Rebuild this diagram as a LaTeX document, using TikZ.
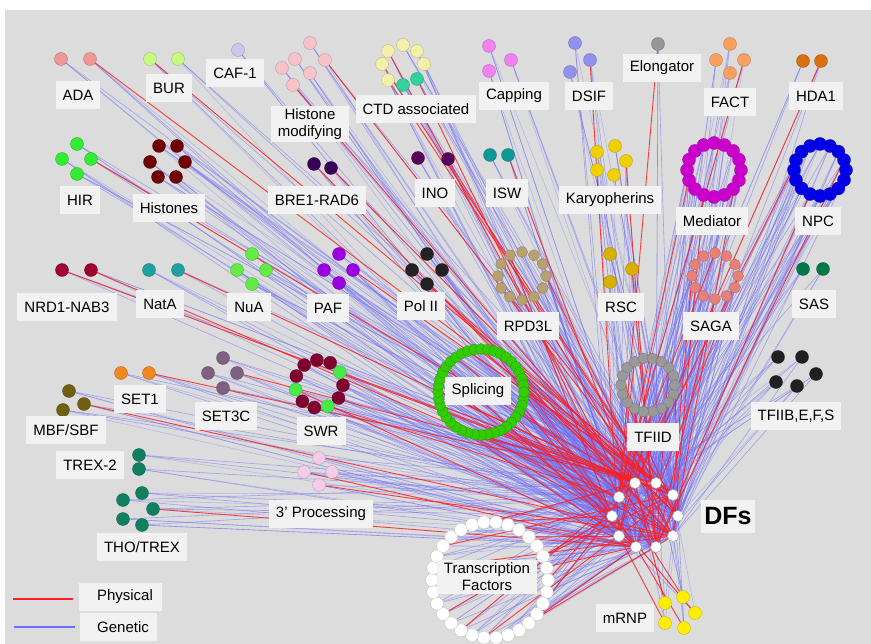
\documentclass[tikz,border=0pt]{standalone}
\usepackage{fontspec}
\setmainfont{Liberation Sans}
\pgfdeclarelayer{back}
\pgfdeclarelayer{links}
\pgfdeclarelayer{plinks}
\pgfsetlayers{back,links,plinks,main}

\definecolor{bggray}{RGB}{220,220,220}
\definecolor{boxgray}{RGB}{242,242,242}
\definecolor{physred}{RGB}{255,30,30}
\definecolor{genblue}{RGB}{110,110,250}
\definecolor{cada}{RGB}{240,150,150}
\definecolor{cbur}{RGB}{200,250,130}
\definecolor{ccaf}{RGB}{200,200,240}
\definecolor{chmod}{RGB}{248,195,200}
\definecolor{cctd}{RGB}{244,240,170}
\definecolor{cctdt}{RGB}{50,210,160}
\definecolor{ccap}{RGB}{240,130,240}
\definecolor{cdsif}{RGB}{145,145,240}
\definecolor{celo}{RGB}{150,150,150}
\definecolor{cfact}{RGB}{248,160,96}
\definecolor{chda}{RGB}{216,112,16}
\definecolor{chir}{RGB}{50,235,50}
\definecolor{chis}{RGB}{112,0,0}
\definecolor{cbre}{RGB}{58,0,88}
\definecolor{cino}{RGB}{88,0,88}
\definecolor{cisw}{RGB}{16,152,152}
\definecolor{ckap}{RGB}{240,208,0}
\definecolor{cmed}{RGB}{204,0,204}
\definecolor{cnpc}{RGB}{0,0,232}
\definecolor{cnrd}{RGB}{160,0,48}
\definecolor{cnat}{RGB}{32,160,160}
\definecolor{cnua}{RGB}{100,235,70}
\definecolor{cpaf}{RGB}{154,0,224}
\definecolor{cpol}{RGB}{34,34,34}
\definecolor{crpd}{RGB}{184,160,112}
\definecolor{crsc}{RGB}{216,176,0}
\definecolor{csaga}{RGB}{232,128,120}
\definecolor{csas}{RGB}{0,120,72}
\definecolor{cspl}{RGB}{51,204,0}
\definecolor{ctfiid}{RGB}{153,153,153}
\definecolor{ctfiib}{RGB}{32,32,32}
\definecolor{cset}{RGB}{240,136,32}
\definecolor{csetc}{RGB}{128,96,128}
\definecolor{cswr}{RGB}{128,0,48}
\definecolor{cswrg}{RGB}{70,235,70}
\definecolor{cmbf}{RGB}{112,96,16}
\definecolor{ctrex}{RGB}{16,128,96}
\definecolor{ctpp}{RGB}{244,204,232}
\definecolor{cmrnp}{RGB}{255,238,0}

\tikzset{
  prot/.style={circle, minimum size=13pt, inner sep=0pt, fill=#1, draw=#1!75!black, line width=0.3pt},
  tiny/.style={minimum size=11pt},
  hub/.style={circle, minimum size=11pt, inner sep=0pt, fill=white, draw=gray!70, line width=0.5pt},
  lbl/.style={fill=boxgray, inner xsep=7pt, inner ysep=3pt, minimum height=28pt, align=center, font=\fontsize{15}{17}\selectfont},
  gen/.style={draw=genblue, line width=0.6pt, opacity=0.55},
  phys/.style={draw=physred, line width=0.9pt, opacity=0.85},
}

% complex / number of proteins / every m-th protein has a physical link
\def\complexes{ada/2/2, bur/2/2, caf/1/99, hmod/6/3, ctd/8/2, cap/3/99, dsif/3/2, elo/1/1,
    fact/4/3, hda/2/2, hir/4/3, his/6/99, bre/2/1, ino/2/2, isw/2/2, kap/5/3, med/16/5, npc/16/5,
    nrd/2/1, nat/2/2, nua/4/99, paf/4/3, pol/4/2, rpd/12/4, rsc/3/2, saga/12/3, sas/2/99, spl/40/2,
    tfiid/18/2, tfiib/5/99, setone/2/2, setc/4/3, swr/11/3, mbf/3/2, trex/2/99, tpp/4/2, tho/5/3,
    tf/30/2, mrnp/5/1}

\begin{document}
\begin{tikzpicture}[x=1pt,y=-1pt]
\useasboundingbox (0,0) rectangle (871,644);
\begin{pgfonlayer}{back}
\fill[bggray] (5,10) rectangle (871,644);
\end{pgfonlayer}

% hub of DFs
\foreach \i/\x/\y in {1/635/483, 2/656/483, 3/673/495, 4/678/516, 5/673/536, 6/656/547, 7/636/547, 8/619/536, 9/612/516, 10/619/497}
  \node[hub] (df-\i) at (\x,\y) {};

% small complexes
\foreach \i/\x in {1/61, 2/90} \node[prot=cada] (ada-\i) at (\x,59) {};
\foreach \i/\x in {1/178, 2/150} \node[prot=cbur] (bur-\i) at (\x,59) {};
\node[prot=ccaf] (caf-1) at (238,50) {};
\foreach \i/\x/\y in {1/310/43, 2/295/59, 3/325/60, 4/282/68, 5/310/73, 6/293/85}
  \node[prot=chmod] (hmod-\i) at (\x,\y) {};
\foreach \i/\x/\y in {1/403/45, 2/388/51, 3/417/51, 4/382/64, 5/424/64, 6/388/80}
  \node[prot=cctd] (ctd-\i) at (\x,\y) {};
\foreach \i/\x/\y in {7/403/85, 8/417/79} \node[prot=cctdt] (ctd-\i) at (\x,\y) {};
\foreach \i/\x/\y in {1/489/46, 2/511/60, 3/489/71} \node[prot=ccap] (cap-\i) at (\x,\y) {};
\foreach \i/\x/\y in {1/575/43, 2/590/60, 3/570/72} \node[prot=cdsif] (dsif-\i) at (\x,\y) {};
\node[prot=celo] (elo-1) at (658,44) {};
\foreach \i/\x/\y in {1/730/44, 2/716/60, 3/744/60, 4/730/73} \node[prot=cfact] (fact-\i) at (\x,\y) {};
\foreach \i/\x in {1/803, 2/821} \node[prot=chda] (hda-\i) at (\x,61) {};
\foreach \i/\x/\y in {1/77/144, 2/62/159, 3/91/159, 4/77/174} \node[prot=chir] (hir-\i) at (\x,\y) {};
\foreach \i/\x/\y in {1/159/146, 2/177/146, 3/150/162, 4/185/162, 5/158/177, 6/176/177}
  \node[prot=chis] (his-\i) at (\x,\y) {};
\foreach \i/\x/\y in {1/314/164, 2/331/168} \node[prot=cbre] (bre-\i) at (\x,\y) {};
\foreach \i/\x/\y in {1/418/158, 2/448/159} \node[prot=cino] (ino-\i) at (\x,\y) {};
\foreach \i/\x in {1/490, 2/508} \node[prot=cisw] (isw-\i) at (\x,155) {};
\foreach \i/\x/\y in {1/597/152, 2/615/146, 3/626/161, 4/597/170, 5/614/175} \node[prot=ckap] (kap-\i) at (\x,\y) {};
\foreach \i/\x in {1/62, 2/91} \node[prot=cnrd] (nrd-\i) at (\x,270) {};
\foreach \i/\x in {1/149, 2/178} \node[prot=cnat] (nat-\i) at (\x,270) {};
\foreach \i/\x/\y in {1/252/254, 2/237/270, 3/266/270, 4/252/284} \node[prot=cnua] (nua-\i) at (\x,\y) {};
\foreach \i/\x/\y in {1/339/254, 2/324/270, 3/353/270, 4/339/283} \node[prot=cpaf] (paf-\i) at (\x,\y) {};
\foreach \i/\x/\y in {1/427/254, 2/412/270, 3/442/270, 4/427/284} \node[prot=cpol] (pol-\i) at (\x,\y) {};
\foreach \i/\x/\y in {1/610/254, 2/632/269, 3/610/282} \node[prot=crsc] (rsc-\i) at (\x,\y) {};
\foreach \i/\x in {1/803, 2/823} \node[prot=csas] (sas-\i) at (\x,269) {};
\foreach \i/\x/\y in {1/778/357, 2/802/357, 3/816/374, 4/776/382, 5/797/386} \node[prot=ctfiib] (tfiib-\i) at (\x,\y) {};
\foreach \i/\x in {1/121, 2/149} \node[prot=cset] (setone-\i) at (\x,373) {};
\foreach \i/\x/\y in {1/223/358, 2/208/373, 3/237/373, 4/223/388} \node[prot=csetc] (setc-\i) at (\x,\y) {};
\foreach \i/\x/\y in {1/69/391, 2/84/404, 3/63/410} \node[prot=cmbf] (mbf-\i) at (\x,\y) {};
\foreach \i/\y in {1/455, 2/469} \node[prot=ctrex] (trex-\i) at (139,\y) {};
\foreach \i/\x/\y in {1/319/458, 2/304/472, 3/332/472, 4/319/485} \node[prot=ctpp] (tpp-\i) at (\x,\y) {};
\foreach \i/\x/\y in {1/142/493, 2/123/500, 3/153/509, 4/123/519, 5/142/525} \node[prot=ctrex] (tho-\i) at (\x,\y) {};
\foreach \i/\x/\y in {1/665/603, 2/683/597, 3/695/613, 4/665/623, 5/684/628} \node[prot=cmrnp] (mrnp-\i) at (\x,\y) {};

% ring complexes
\foreach \i in {1,...,16} \node[prot=cmed] (med-\i) at ([shift={(714,170)}] {\i*22.5}:27) {};
\foreach \i in {1,...,16} \node[prot=cnpc] (npc-\i) at ([shift={(820,170)}] {\i*22.5}:26) {};
\foreach \i in {1,...,12} \node[prot=crpd, tiny] (rpd-\i) at ([shift={(522,276)}] {\i*30}:24) {};
\foreach \i in {1,...,12} \node[prot=csaga, tiny] (saga-\i) at ([shift={(715,276)}] {\i*30}:23) {};
\foreach \i in {1,...,18} \node[prot=ctfiid, tiny] (tfiid-\i) at ([shift={(648,385)}] {\i*20}:27) {};
\foreach \i in {1,...,40} \node[prot=cspl, tiny] (spl-\i) at ([shift={(481,392)}] {\i*9}:43) {};
\foreach \i in {1,...,30} \node[prot=white] (tf-\i) at ([shift={(490,580)}] {\i*12}:58) {};
\foreach \i/\col [evaluate=\i as \a using -127.7+\i*32.7] in {1/cswr, 2/cswr, 3/cswrg, 4/cswr, 5/cswr, 6/cswrg, 7/cswr, 8/cswr, 9/cswrg, 10/cswr, 11/cswr}
  \node[prot=\col] (swr-\i) at ([shift={(319,384)}] \a:24) {};

% labels
\node[lbl] (l-ada) at (78,95) {ADA};
\node[lbl] (l-bur) at (169,88) {BUR};
\node[lbl] (l-caf) at (235,73) {CAF-1};
\node[lbl] (l-hmod) at (310,124) {Histone\\modifying};
\node[lbl] (l-ctd) at (416,109) {CTD associated};
\node[lbl] (l-cap) at (514,96) {Capping};
\node[lbl] (l-dsif) at (589,96) {DSIF};
\node[lbl] (l-elo) at (662,68) {Elongator};
\node[lbl] (l-fact) at (730,102) {FACT};
\node[lbl] (l-hda) at (816,96) {HDA1};
\node[lbl] (l-hir) at (80,200) {HIR};
\node[lbl] (l-his) at (169,208) {Histones};
\node[lbl] (l-bre) at (317,200) {BRE1-RAD6};
\node[lbl] (l-ino) at (435,193) {INO};
\node[lbl] (l-isw) at (507,193) {ISW};
\node[lbl] (l-kap) at (610,200) {Karyopherins};
\node[lbl] (l-med) at (712,221) {Mediator};
\node[lbl] (l-npc) at (818,221) {NPC};
\node[lbl] (l-nrd) at (67,307) {NRD1-NAB3};
\node[lbl] (l-nat) at (160,304) {NatA};
\node[lbl] (l-nua) at (249,307) {NuA};
\node[lbl] (l-paf) at (328,308) {PAF};
\node[lbl] (l-pol) at (421,306) {Pol II};
\node[lbl] (l-rpd) at (528,326) {RPD3L};
\node[lbl] (l-rsc) at (621,307) {RSC};
\node[lbl] (l-saga) at (711,326) {SAGA};
\node[lbl] (l-sas) at (814,304) {SAS};
\node[lbl] (l-spl) at (478,391) {Splicing};
\node[lbl] (l-tfiid) at (653,437) {TFIID};
\node[lbl] (l-tfiib) at (796,416) {TFIIB,E,F,S};
\node[lbl] (l-setone) at (140,399) {SET1};
\node[lbl] (l-setc) at (226,416) {SET3C};
\node[lbl] (l-swr) at (321,431) {SWR};
\node[lbl] (l-mbf) at (66,430) {MBF/SBF};
\node[lbl] (l-trex) at (90,465) {TREX-2};
\node[lbl] (l-tpp) at (321,514) {3’ Processing};
\node[lbl] (l-tho) at (142,547) {THO/TREX};
\node[lbl] (l-tf) at (487,577) {Transcription\\Factors};
\node[lbl] (l-mrnp) at (625,618) {mRNP};
\node[lbl, inner xsep=3pt, minimum height=33pt, font=\bfseries\fontsize{25}{28}\selectfont] (l-dfs) at (728,516) {DFs};

% legend
\coordinate (leg-r1) at (13,599);
\coordinate (leg-r2) at (73,599);
\coordinate (leg-b1) at (14,627);
\coordinate (leg-b2) at (75,627);
\draw[physred, line width=2.5pt] (leg-r1) -- (leg-r2);
\draw[genblue, line width=2.5pt] (leg-b1) -- (leg-b2);
\node[lbl, minimum width=83pt] (l-phys) at (120,597) {\hspace{10pt}Physical};
\node[lbl, minimum width=77pt] (l-gen) at (118,627) {\hspace{10pt}Genetic};

% interactions with the DFs
\begin{pgfonlayer}{links}
\foreach \c/\n/\m [count=\k] in \complexes {
  \foreach \i in {1,...,\n} {
    \pgfmathtruncatemacro\ha{mod(\k*3+\i*7,10)+1}
    \pgfmathtruncatemacro\hb{mod(\k*7+\i*3+5,10)+1}
    \pgfmathtruncatemacro\hd{mod(\k*9+\i+8,10)+1}
    \draw[gen] (\c-\i) -- (df-\ha);
    \draw[gen] (\c-\i) -- (df-\hb);
    \draw[gen, opacity=0.35] (\c-\i) -- (df-\hd);
  }
}
\end{pgfonlayer}
\begin{pgfonlayer}{plinks}
\foreach \c/\n/\m [count=\k] in \complexes {
  \foreach \i in {1,...,\n} {
    \pgfmathtruncatemacro\hc{mod(\k+\i*9+2,10)+1}
    \pgfmathtruncatemacro\isp{mod(\i,\m)==0}
    \ifnum\isp=1 \draw[phys] (\c-\i) -- (df-\hc); \fi
  }
}
\end{pgfonlayer}

\end{tikzpicture}
\end{document}
